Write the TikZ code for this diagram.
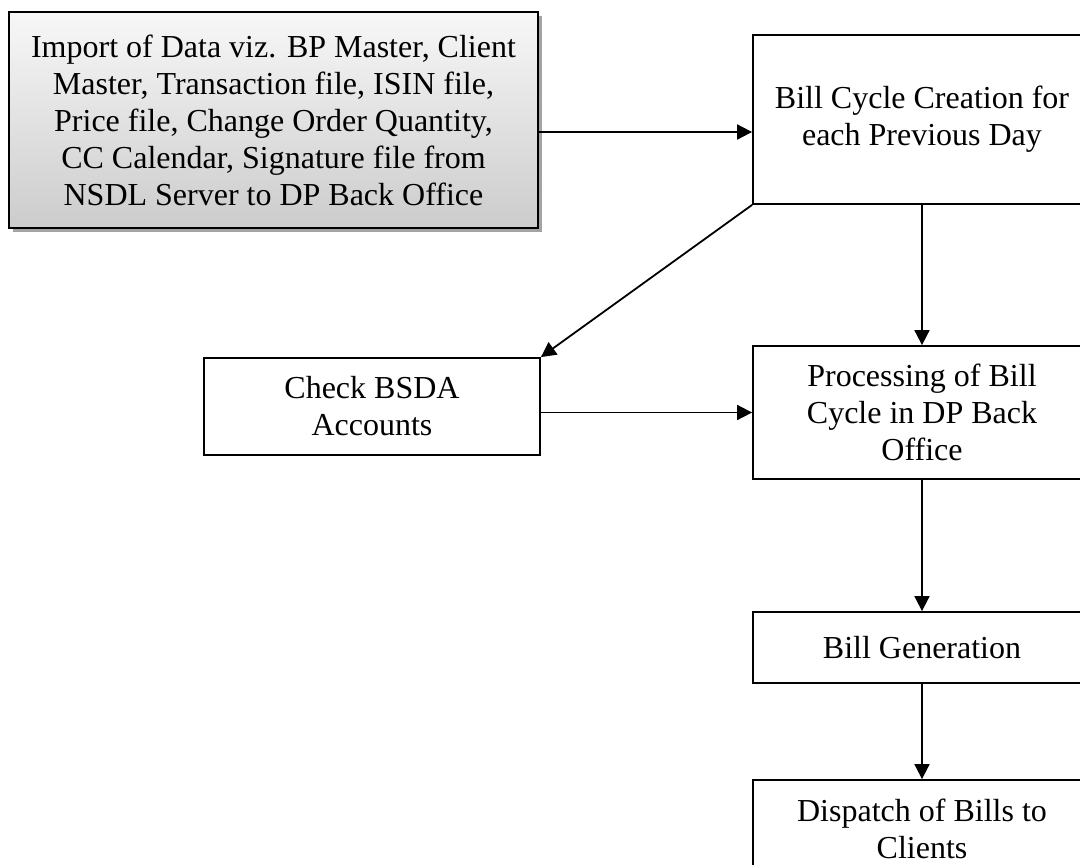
\documentclass[tikz,border=0pt]{standalone}
\usepackage{fontspec}
\setmainfont{Liberation Serif}
\usetikzlibrary{arrows.meta,shadows}
\begin{document}
\begin{tikzpicture}[x=1pt,y=-1pt,
  box/.style={draw=black, line width=1.8pt, align=center, inner sep=0pt,
    font=\fontsize{32}{37}\selectfont, fill=white},
  arr/.style={line width=1.8pt, -{Triangle[length=15pt,width=15pt]}}]
\useasboundingbox (0,0) rectangle (1080,865);
\clip (0,0) rectangle (1080,865);
\node[box, minimum width=529pt, minimum height=216pt, top color=gray!6, bottom color=gray!40,
  drop shadow={shadow xshift=4pt, shadow yshift=-4pt, fill=black!60, opacity=0.6}]
  (imp) at (273.5,120) {Import of Data viz. BP Master, Client\\Master, Transaction file, ISIN file,\\Price file, Change Order Quantity,\\CC Calendar, Signature file from\\NSDL Server to DP Back Office};
\node[box, minimum width=338pt, minimum height=169pt] (bc) at (922,119.5) {Bill Cycle Creation for\\each Previous Day};
\node[box, minimum width=338pt, minimum height=133pt] (proc) at (922,412.5) {Processing of Bill\\Cycle in DP Back\\Office};
\node[box, minimum width=336pt, minimum height=97pt] (chk) at (372,406.5) {Check BSDA\\Accounts};
\node[box, minimum width=338pt, minimum height=71pt] (bg) at (922,647.5) {Bill Generation};
\node[box, minimum width=338pt, minimum height=98pt] (disp) at (922,829) {Dispatch of Bills to\\Clients};
\draw[arr] ([yshift=-12pt]imp.east) -- ([yshift=-12pt]imp.east -| bc.west);
\draw[arr] (bc.south west) -- (chk.north east);
\draw[arr] (bc.south) -- (proc.north);
\draw[arr] (chk.east |- proc.west) -- (proc.west);
\draw[arr] (proc.south) -- (bg.north);
\draw[arr] (bg.south) -- (disp.north);
\end{tikzpicture}
\end{document}
